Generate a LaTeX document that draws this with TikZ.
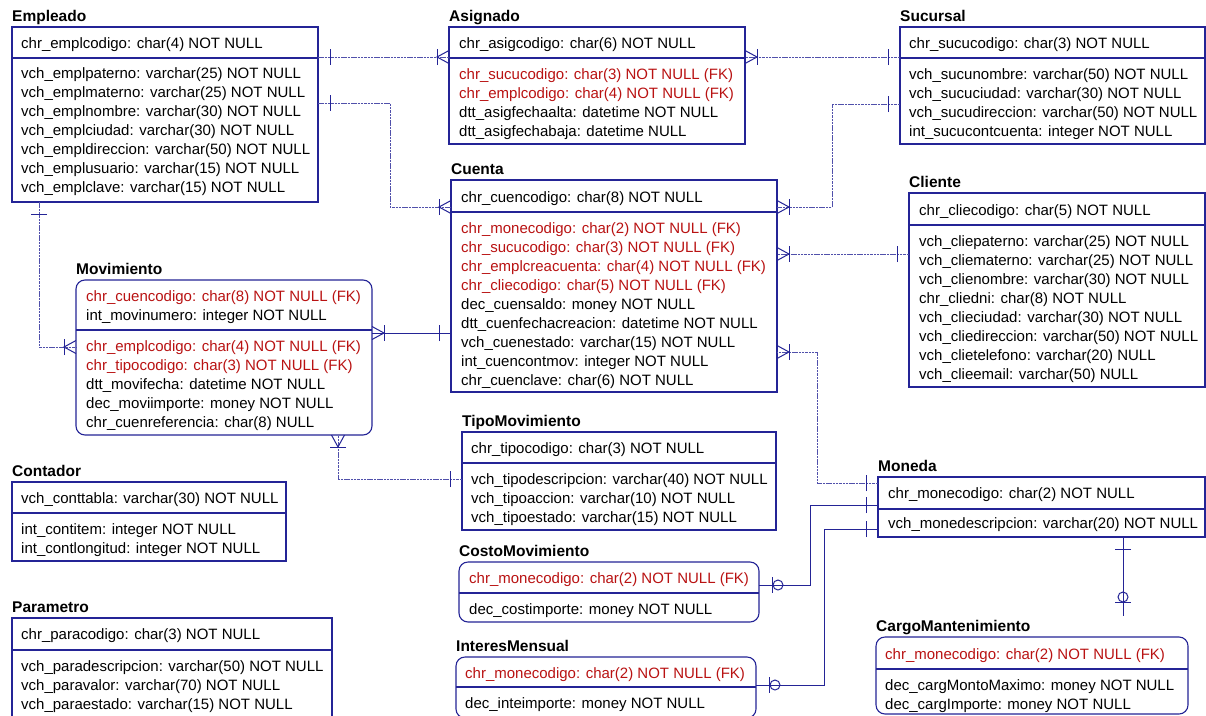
\documentclass[tikz,border=0pt]{standalone}
\usepackage{fontspec}
\setmainfont{Liberation Sans}
\definecolor{erblue}{RGB}{36,36,150}
\definecolor{fkred}{RGB}{185,18,18}
\newcommand\fk{\color{fkred}}
\newcommand\rowfont{\fontsize{15}{19}\selectfont}
\newcommand\ttlfont{\fontsize{15.5}{19}\selectfont\bfseries}
\tikzset{
 tbl/.style={draw=erblue, line width=1.1pt, inner sep=0pt, outer sep=0pt, fill=white},
 rtbl/.style={tbl, rounded corners=9pt},
 divline/.style={draw=erblue, line width=1.1pt},
 ttl/.style={font=\ttlfont, inner sep=0pt, anchor=base west},
 rowtxt/.style={font=\rowfont, inner sep=0pt, anchor=base west},
 rel/.style={draw=erblue, line width=1pt},
 nonid/.style={rel, draw=erblue!80, dash pattern=on 2.5pt off 0.8pt},
 sym/.style={draw=erblue, line width=1pt, solid},
 onlyone/.pic={\draw[sym] (12,-8) -- (12,8);},
 onemany/.pic={\draw[sym] (0,-6.5) -- (12,0) -- (0,6.5); \draw[sym] (12,-8) -- (12,8);},
 zerone/.pic={\draw[sym] (13.5,-8) -- (13.5,8); \draw[sym] (19,0) circle[radius=5];},
}
\newcommand\mkbox[8][tbl]{%
 \node[#1, anchor=north west, minimum width={(#6)-(#4)}, minimum height={(#8)-(#5)}] (#2) at (#4,#5) {};
 \node[ttl] (#2-t) at (#4,{#5-6}) {#3};
 \draw[divline] (#2.west |- 0,#7) -- (#2.east |- 0,#7);
}
\newcommand\mkrows[4]{%
 \foreach \rowtext [count=\i from 0] in {#4} {\node[rowtxt] (#1-r\i) at (#2,{#3+19*\i}) {\rowtext};}
}
\begin{document}
\begin{tikzpicture}[x=1pt,y=-1pt]
\useasboundingbox (0,0) rectangle (1206,715);
\clip (0,0) rectangle (1206,715);
\fill[white] (0,0) rectangle (1206,715);

% ---------- tables ----------
\mkbox{emp}{Empleado}{12}{27}{318}{58}{202}
\mkrows{empa}{21}{48}{chr\_emplcodigo: char(4) NOT NULL}
\mkrows{empb}{21}{78}{vch\_emplpaterno: varchar(25) NOT NULL, vch\_emplmaterno: varchar(25) NOT NULL, vch\_emplnombre: varchar(30) NOT NULL, vch\_emplciudad: varchar(30) NOT NULL, vch\_empldireccion: varchar(50) NOT NULL, vch\_emplusuario: varchar(15) NOT NULL, vch\_emplclave: varchar(15) NOT NULL}

\mkbox{asig}{Asignado}{449}{27}{745}{58}{144}
\mkrows{asiga}{459}{48}{chr\_asigcodigo: char(6) NOT NULL}
\mkrows{asigb}{459}{79}{{\fk chr\_sucucodigo: char(3) NOT NULL (FK)}, {\fk chr\_emplcodigo: char(4) NOT NULL (FK)}, dtt\_asigfechaalta: datetime NOT NULL, dtt\_asigfechabaja: datetime NULL}

\mkbox{suc}{Sucursal}{900}{27}{1205}{58}{144}
\mkrows{suca}{909}{48}{chr\_sucucodigo: char(3) NOT NULL}
\mkrows{sucb}{909}{79}{vch\_sucunombre: varchar(50) NOT NULL, vch\_sucuciudad: varchar(30) NOT NULL, vch\_sucudireccion: varchar(50) NOT NULL, int\_sucucontcuenta: integer NOT NULL}

\mkbox{cli}{Cliente}{909}{193}{1205}{225}{387}
\mkrows{clia}{919}{215}{chr\_cliecodigo: char(5) NOT NULL}
\mkrows{clib}{919}{246}{vch\_cliepaterno: varchar(25) NOT NULL, vch\_cliematerno: varchar(25) NOT NULL, vch\_clienombre: varchar(30) NOT NULL, chr\_cliedni: char(8) NOT NULL, vch\_clieciudad: varchar(30) NOT NULL, vch\_cliedireccion: varchar(50) NOT NULL, vch\_clietelefono: varchar(20) NULL, vch\_clieemail: varchar(50) NULL}

\mkbox{cue}{Cuenta}{451}{180}{777}{212}{392}
\mkrows{cuea}{461}{202}{chr\_cuencodigo: char(8) NOT NULL}
\mkrows{cueb}{461}{233}{{\fk chr\_monecodigo: char(2) NOT NULL (FK)}, {\fk chr\_sucucodigo: char(3) NOT NULL (FK)}, {\fk chr\_emplcreacuenta: char(4) NOT NULL (FK)}, {\fk chr\_cliecodigo: char(5) NOT NULL (FK)}, dec\_cuensaldo: money NOT NULL, dtt\_cuenfechacreacion: datetime NOT NULL, vch\_cuenestado: varchar(15) NOT NULL, int\_cuencontmov: integer NOT NULL, chr\_cuenclave: char(6) NOT NULL}

\mkbox[rtbl]{mov}{Movimiento}{76}{280}{372}{330}{435}
\mkrows{mova}{86}{301}{{\fk chr\_cuencodigo: char(8) NOT NULL (FK)}, int\_movinumero: integer NOT NULL}
\mkrows{movb}{86}{351}{{\fk chr\_emplcodigo: char(4) NOT NULL (FK)}, {\fk chr\_tipocodigo: char(3) NOT NULL (FK)}, dtt\_movifecha: datetime NOT NULL, dec\_moviimporte: money NOT NULL, chr\_cuenreferencia: char(8) NULL}

\mkbox{cont}{Contador}{12}{482}{286}{513}{561}
\mkrows{conta}{21}{503}{vch\_conttabla: varchar(30) NOT NULL}
\mkrows{contb}{21}{534}{int\_contitem: integer NOT NULL, int\_contlongitud: integer NOT NULL}

\mkbox{par}{Parametro}{12}{618}{332}{650}{722}
\mkrows{para}{21}{639}{chr\_paracodigo: char(3) NOT NULL}
\mkrows{parb}{21}{671}{vch\_paradescripcion: varchar(50) NOT NULL, vch\_paravalor: varchar(70) NOT NULL, vch\_paraestado: varchar(15) NOT NULL}

\mkbox{tip}{TipoMovimiento}{462}{432}{776}{463}{530}
\mkrows{tipa}{471}{453}{chr\_tipocodigo: char(3) NOT NULL}
\mkrows{tipb}{471}{484}{vch\_tipodescripcion: varchar(40) NOT NULL, vch\_tipoaccion: varchar(10) NOT NULL, vch\_tipoestado: varchar(15) NOT NULL}

\mkbox[rtbl]{cos}{CostoMovimiento}{459}{562}{759}{593}{622}
\mkrows{cosa}{469}{583}{{\fk chr\_monecodigo: char(2) NOT NULL (FK)}}
\mkrows{cosb}{469}{614}{dec\_costimporte: money NOT NULL}

\mkbox[rtbl]{int}{InteresMensual}{456}{657}{756}{687}{718}
\mkrows{inta}{465}{678}{{\fk chr\_monecodigo: char(2) NOT NULL (FK)}}
\mkrows{intb}{465}{708}{dec\_inteimporte: money NOT NULL}

\mkbox{mon}{Moneda}{878}{477}{1205}{509}{537}
\mkrows{mona}{888}{498}{chr\_monecodigo: char(2) NOT NULL}
\mkrows{monb}{888}{528}{vch\_monedescripcion: varchar(20) NOT NULL}

\mkbox[rtbl]{car}{CargoMantenimiento}{876}{637}{1188}{669}{714}
\mkrows{cara}{885}{659}{{\fk chr\_monecodigo: char(2) NOT NULL (FK)}}
\mkrows{carb}{885}{690}{dec\_cargMontoMaximo: money NOT NULL, dec\_cargImporte: money NOT NULL}

% ---------- relationships ----------
% Empleado - Asignado
\draw[nonid] (emp.east |- 0,57) -- (asig.west |- 0,57);
\pic at (emp.east |- 0,57) {onlyone};
\pic[rotate=180] at (asig.west |- 0,57) {onemany};
% Empleado - Cuenta
\draw[nonid] (emp.east |- 0,103) -- (390,103) -- (390,207) -- (cue.west |- 0,207);
\pic at (emp.east |- 0,103) {onlyone};
\pic[rotate=180] at (cue.west |- 0,207) {onemany};
% Empleado - Movimiento
\draw[nonid] (emp.south -| 39,0) -- (39,347) -- (mov.west |- 0,347);
\pic[rotate=-90] at (emp.south -| 39,0) {onlyone};
\pic[rotate=180] at (mov.west |- 0,347) {onemany};
% Sucursal - Asignado
\draw[nonid] (suc.west |- 0,57) -- (asig.east |- 0,57);
\pic[rotate=180] at (suc.west |- 0,57) {onlyone};
\pic at (asig.east |- 0,57) {onemany};
% Sucursal - Cuenta
\draw[nonid] (suc.west |- 0,104) -- (832,104) -- (832,207) -- (cue.east |- 0,207);
\pic[rotate=180] at (suc.west |- 0,104) {onlyone};
\pic at (cue.east |- 0,207) {onemany};
% Cliente - Cuenta
\draw[nonid] (cli.west |- 0,254) -- (cue.east |- 0,254);
\pic[rotate=180] at (cli.west |- 0,254) {onlyone};
\pic at (cue.east |- 0,254) {onemany};
% Moneda - Cuenta
\draw[nonid] (mon.west |- 0,483) -- (817,483) -- (817,352) -- (cue.east |- 0,352);
\pic[rotate=180] at (mon.west |- 0,483) {onlyone};
\pic at (cue.east |- 0,352) {onemany};
% Cuenta - Movimiento
\draw[rel] (cue.west |- 0,333) -- (mov.east |- 0,333);
\pic[rotate=180] at (cue.west |- 0,333) {onlyone};
\pic at (mov.east |- 0,333) {onemany};
% TipoMovimiento - Movimiento
\draw[nonid] (tip.west |- 0,479) -- (338,479) -- (mov.south -| 338,0);
\pic[rotate=180] at (tip.west |- 0,479) {onlyone};
\pic[rotate=-90] at (mov.south -| 338,0) {onemany};
% Moneda - CostoMovimiento
\draw[rel] (mon.west |- 0,505) -- (810,505) -- (810,585) -- (cos.east |- 0,585);
\pic[rotate=180] at (mon.west |- 0,505) {onlyone};
\pic at (cos.east |- 0,585) {zerone};
% Moneda - InteresMensual
\draw[rel] (mon.west |- 0,529) -- (824,529) -- (824,685) -- (int.east |- 0,685);
\pic[rotate=180] at (mon.west |- 0,529) {onlyone};
\pic at (int.east |- 0,685) {zerone};
% Moneda - CargoMantenimiento
\coordinate (carend) at (1123,616);
\draw[rel] (mon.south -| carend) -- (carend);
\pic[rotate=-90] at (mon.south -| carend) {onlyone};
\pic[rotate=90] at (carend) {zerone};
\end{tikzpicture}
\end{document}
